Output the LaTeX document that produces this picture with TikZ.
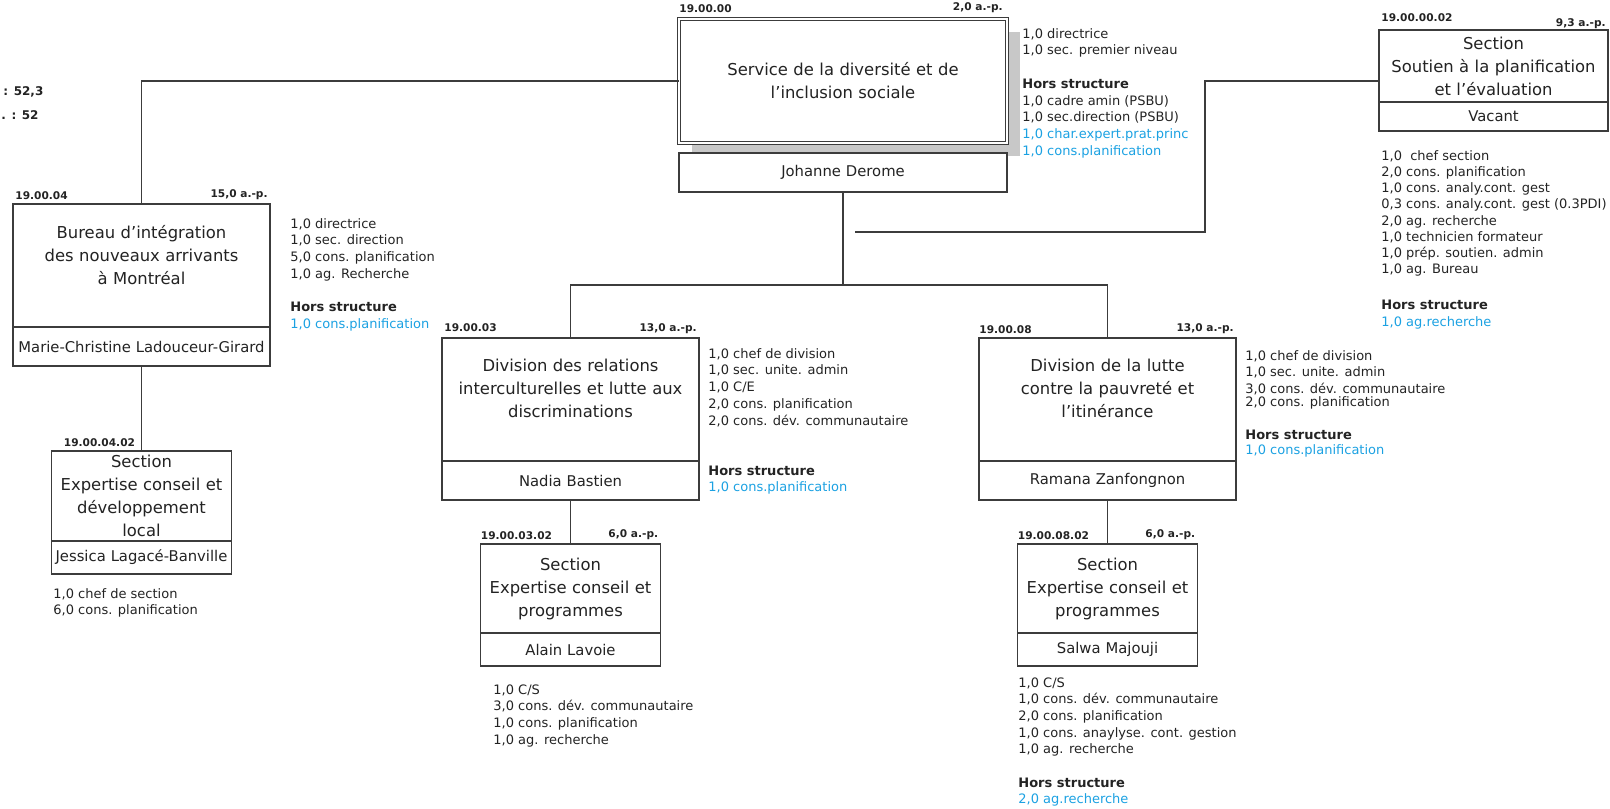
\documentclass[tikz,border=0pt]{standalone}
\usepackage{fontspec}
\setmainfont{DejaVu Sans}
\usepackage{xcolor}
\usetikzlibrary{positioning,shadows}

\definecolor{ink}{RGB}{35,35,35}
\definecolor{edge}{RGB}{60,60,60}
\definecolor{hsblue}{RGB}{27,161,226}
\definecolor{shade}{RGB}{200,200,200}

\newcommand\liftpad[1]{\endgraf\kern#1}

\begin{document}
\begin{tikzpicture}[
                        x=0.5pt, y=-0.5pt,
                        every node/.style={text=ink},
                        unit/.style={
                                draw=edge,
                                line width=0.7pt,
                                fill=white,
                                inner sep=0pt,
                                outer sep=0pt,
                                align=center,
                            },
                        box/.style 2 args={
                                unit,
                                anchor=north west,
                                text width=#1,
                                minimum height=#2,
                                font=\fontsize{8.2}{11.5}\selectfont,
                            },
                        who/.style 2 args={
                                unit,
                                text width=#1,
                                minimum height=#2,
                                font=\fontsize{7.4}{9}\selectfont,
                            },
                        lift/.style={execute at end node={\liftpad{#1}}},
                        code/.style={font=\fontsize{5.3}{6}\selectfont\bfseries, inner sep=0pt},
                        staff/.style={
                                anchor=north west,
                                inner sep=0pt,
                                align=left,
                                font=\fontsize{6.5}{8.35}\selectfont,
                            },
                        wire/.style={draw=edge, line width=0.8pt},
                    ]

                    \useasboundingbox (0,0) rectangle (1610,808);

                    \node[font=\fontsize{6}{7}\selectfont\bfseries, anchor=west, inner sep=0pt] (tot1) at (3,92) {: 52,3};
                    \node[font=\fontsize{6}{7}\selectfont\bfseries, anchor=west, inner sep=0pt] (tot2) at (1,115) {. : 52};

                    % service
                    \node[box={164pt}{62pt}, double, double distance=1.2pt, line width=0.5pt,
                        drop shadow={shadow xshift=6.5pt, shadow yshift=-6.5pt, fill=shade, opacity=1}] (svc) at (679,19)
                        {Service de la diversité et de\\l’inclusion sociale};
                    \node[who={164pt}{19.5pt}, below=5pt of svc] (jd) {Johanne Derome};
                    \node[code, above right=3pt and 0pt of svc.north west] (svcid) {19.00.00};
                    \node[code, above left=3pt and 2pt of svc.north east] (svcap) {2,0 a.-p.};
                    \node[staff] (svcstaff) at (1022,28) {1,0 directrice\\1,0 sec. premier niveau\\[8.35pt]
                        \textbf{Hors structure}\\1,0 cadre amin (PSBU)\\1,0 sec.direction (PSBU)\\
                        \textcolor{hsblue}{1,0 char.expert.prat.princ}\\\textcolor{hsblue}{1,0 cons.planification}};

                    % bureau
                    \node[box={128.5pt}{61.5pt}, lift=10pt] (bur) at (13,204)
                        {Bureau d’intégration\\des nouveaux arrivants\\à Montréal};
                    \node[who={128.5pt}{19.5pt}, below=0pt of bur] (burname) {Marie-Christine Ladouceur-Girard};
                    \node[code, above right=2pt and 1pt of bur.north west] (burid) {19.00.04};
                    \node[code, above left=2pt and 1pt of bur.north east] (burap) {15,0 a.-p.};
                    \node[staff] (burstaff) at (290,218) {1,0 directrice\\1,0 sec. direction\\5,0 cons. planification\\
                        1,0 ag. Recherche\\[8.35pt]\textbf{Hors structure}\\\textcolor{hsblue}{1,0 cons.planification}};

                    \node[box={90pt}{45pt}] (sec0) at (51.5,451) {Section\\Expertise conseil et\\développement\\local};
                    \node[who={90pt}{16.5pt}, below=0pt of sec0] (sec0name) {Jessica Lagacé-Banville};
                    \node[code, above right=2pt and 6pt of sec0.north west] (sec0id) {19.00.04.02};
                    \node[staff] (sec0staff) at (53,588) {1,0 chef de section\\6,0 cons. planification};

                    % divisions
                    \node[box={128.5pt}{61.5pt}, lift=11pt] (div1) at (442,338)
                        {Division des relations\\interculturelles et lutte aux\\discriminations};
                    \node[who={128.5pt}{19.5pt}, below=0pt of div1] (div1name) {Nadia Bastien};
                    \node[code, above right=3pt and 1pt of div1.north west] (div1id) {19.00.03};
                    \node[code, above left=2pt and 1pt of div1.north east] (div1ap) {13,0 a.-p.};
                    \node[staff] (div1staff) at (708,348) {1,0 chef de division\\1,0 sec. unite. admin\\1,0 C/E\\
                        2,0 cons. planification\\2,0 cons. dév. communautaire\\[16.7pt]
                        \textbf{Hors structure}\\\textcolor{hsblue}{1,0 cons.planification}};

                    \node[box={128.5pt}{61.5pt}, lift=11pt] (div2) at (979,338)
                        {Division de la lutte\\contre la pauvreté et\\l’itinérance};
                    \node[who={128.5pt}{19.5pt}, below=0pt of div2] (div2name) {Ramana Zanfongnon};
                    \node[code, above right=2pt and 0pt of div2.north west] (div2id) {19.00.08};
                    \node[code, above left=2pt and 1pt of div2.north east] (div2ap) {13,0 a.-p.};
                    \node[staff] (div2staff) at (1245,350) {1,0 chef de division\\
                        1,0 sec. unite. admin\\3,0 cons. dév. communautaire\\[-2pt]2,0 cons. planification};
                    \node[staff, font=\fontsize{6.5}{7.2}\selectfont] (div2hs) at (1245,430)
                        {\textbf{Hors structure}\\\textcolor{hsblue}{1,0 cons.planification}};

                    % sections
                    \node[box={90pt}{44.5pt}] (sec1) at (480.5,544) {Section\\Expertise conseil et\\programmes};
                    \node[who={90pt}{16.5pt}, below=0pt of sec1] (sec1name) {Alain Lavoie};
                    \node[code, above right=2pt and 0pt of sec1.north west] (sec1id) {19.00.03.02};
                    \node[code, above left=2pt and 1pt of sec1.north east] (sec1ap) {6,0 a.-p.};
                    \node[staff] (sec1staff) at (493,684) {1,0 C/S\\3,0 cons. dév. communautaire\\
                        1,0 cons. planification\\1,0 ag. recherche};

                    \node[box={90pt}{44.5pt}] (sec2) at (1017.5,544) {Section\\Expertise conseil et\\programmes};
                    \node[who={90pt}{16.5pt}, below=0pt of sec2] (sec2name) {Salwa Majouji};
                    \node[code, above right=2pt and 0pt of sec2.north west] (sec2id) {19.00.08.02};
                    \node[code, above left=2pt and 1pt of sec2.north east] (sec2ap) {6,0 a.-p.};
                    \node[staff] (sec2staff) at (1018,677) {1,0 C/S\\1,0 cons. dév. communautaire\\
                        2,0 cons. planification\\1,0 cons. anaylyse. cont. gestion\\1,0 ag. recherche\\[8.35pt]
                        \textbf{Hors structure}\\\textcolor{hsblue}{2,0 ag.recherche}};

                    \node[box={114.5pt}{36pt}] (sect) at (1379,30) {Section\\Soutien à la planification\\et l’évaluation};
                    \node[who={114.5pt}{14.5pt}, below=0pt of sect] (sectname) {Vacant};
                    \node[code, above right=4pt and 1pt of sect.north west] (sectid) {19.00.00.02};
                    \node[code, above left=0.5pt and 1pt of sect.north east] (sectap) {9,3 a.-p.};
                    \node[staff, font=\fontsize{6.5}{8.1}\selectfont] (sectstaff) at (1381,150) {1,0~~chef section\\
                        2,0 cons. planification\\1,0 cons. analy.cont. gest\\0,3 cons. analy.cont. gest (0.3PDI)\\
                        2,0 ag. recherche\\1,0 technicien formateur\\1,0 prép. soutien. admin\\1,0 ag. Bureau\\[10pt]
                        \textbf{Hors structure}\\\textcolor{hsblue}{1,0 ag.recherche}};

                    % links
                    \coordinate (bus) at (843,285);
                    \coordinate (loose) at (855,232);
                    \coordinate (elbow) at (1205,81);

                    \draw[wire] (svc.west) -| (bur.north);
                    \draw[wire] (burname.south) -- (sec0.north);
                    \draw[wire] (jd.south) -- (bus);
                    \draw[wire] (div1.north) |- (bus) -| (div2.north);
                    \draw[wire] (div1name.south) -- (sec1.north);
                    \draw[wire] (div2name.south) -- (sec2.north);
                    \draw[wire] (loose) -| (elbow) -- (elbow -| sect.west);
                \end{tikzpicture}
\end{document}
